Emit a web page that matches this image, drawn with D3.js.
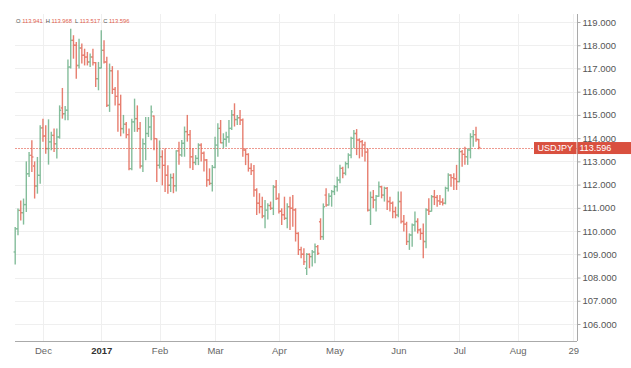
<!DOCTYPE html>
<html><head><meta charset="utf-8">
<script src="https://cdn.jsdelivr.net/npm/d3@7"></script>
<style>
html,body{margin:0;padding:0;background:#fff;}
svg{display:block;font-family:"Liberation Sans",Arial,Helvetica,sans-serif;}
</style></head>
<body><svg id="c" width="631" height="368"></svg>
<script>
// ---- data (USDJPY daily OHLC, trading days from 2016-11-17) ----
const startDate = "2016-11-17";
const skipDates = ["2016-12-26", "2017-01-02"];
const openV = [109.10,110.10,110.89,110.79,111.14,112.47,113.26,112.80,111.94,112.40,114.44,114.09,113.55,113.84,114.12,113.76,114.05,115.30,115.05,115.20,117.06,118.21,118.00,117.13,117.88,117.57,117.49,117.28,117.49,117.25,116.56,117.02,117.78,117.28,115.41,116.90,116.10,115.80,115.45,114.41,114.60,114.15,112.69,114.70,114.84,114.41,112.80,113.76,114.20,114.48,114.95,113.98,112.83,113.20,112.83,112.40,111.97,112.30,111.95,113.45,113.28,113.78,114.28,114.15,113.20,112.95,113.13,113.70,113.35,113.06,112.20,112.05,112.74,113.70,114.42,113.80,113.95,114.05,114.42,115.00,114.80,114.88,114.78,113.49,113.30,112.70,112.60,111.77,111.20,111.05,110.65,110.90,111.10,110.98,111.90,111.40,110.85,110.70,110.55,111.05,110.98,110.91,109.90,109.20,109.00,108.40,109.00,108.90,109.10,109.33,110.40,109.76,111.55,111.12,111.50,111.70,111.91,112.20,112.70,112.49,112.90,113.27,113.99,114.20,113.92,113.85,113.71,113.40,110.90,111.45,111.34,111.50,111.91,111.55,111.84,111.27,111.20,110.84,110.69,111.27,110.41,110.30,109.55,109.83,110.26,110.41,110.05,109.90,109.55,110.91,110.85,111.48,111.45,111.30,111.25,111.20,111.84,112.41,112.30,112.25,112.13,113.42,113.30,113.20,113.49,114.06,114.15,113.941];
const highV = [110.18,110.97,111.32,111.40,113.00,113.40,113.91,113.00,113.19,114.55,114.84,114.55,114.81,114.27,114.41,114.41,115.41,116.16,115.38,117.39,118.71,118.43,118.14,118.28,118.07,117.85,117.71,117.64,117.85,117.28,117.28,118.64,118.21,117.50,117.21,117.10,116.20,116.92,115.87,115.00,114.70,114.41,114.84,115.70,115.41,114.70,113.98,114.91,114.91,115.41,114.98,113.98,113.90,113.48,113.55,112.83,112.47,112.49,113.48,113.85,113.92,114.50,115.00,114.35,113.56,113.27,113.78,113.78,113.42,113.10,112.70,112.84,114.06,114.64,114.78,114.21,114.28,114.78,115.21,115.50,115.00,115.21,114.85,113.56,113.35,112.92,112.84,111.84,111.63,111.48,111.34,111.20,111.27,111.98,112.20,111.63,110.98,111.48,111.20,111.48,111.55,110.98,109.95,109.33,109.26,109.05,109.04,109.19,109.47,109.40,110.55,111.19,111.84,111.63,111.77,111.98,112.34,112.85,112.77,112.99,113.35,114.06,114.35,114.39,113.99,113.92,113.85,113.56,111.70,111.77,111.55,112.13,111.95,111.91,111.90,111.48,111.27,111.05,111.70,111.70,110.69,110.40,109.90,110.33,110.84,110.55,110.12,110.33,110.98,111.41,111.55,111.77,111.55,111.55,111.41,111.91,112.49,112.45,112.49,112.85,113.56,113.49,113.63,113.56,114.21,114.35,114.49,113.968];
const lowV = [108.56,109.82,110.46,110.28,110.82,112.33,112.54,111.40,111.61,112.04,113.84,113.33,112.86,113.48,113.40,113.12,113.98,114.84,114.77,114.77,117.00,117.42,116.56,117.00,117.21,117.13,117.13,117.06,117.13,116.20,116.06,117.00,117.21,115.34,115.13,115.90,115.41,114.27,114.08,114.20,114.00,112.62,112.62,114.27,114.27,112.69,112.54,113.05,114.05,113.91,113.48,112.11,112.69,111.97,111.68,111.61,111.68,111.63,111.70,112.85,113.20,113.20,113.85,112.70,112.63,112.84,112.84,112.99,112.56,111.91,111.98,111.70,112.70,113.20,113.78,113.56,113.63,113.80,114.35,114.50,114.57,114.57,113.20,112.84,112.56,112.41,111.48,110.69,110.76,110.55,110.12,110.50,110.91,110.69,111.34,110.76,110.26,110.48,110.12,110.05,110.19,109.55,108.97,108.83,108.54,108.11,108.40,108.47,108.61,108.97,109.62,109.62,111.05,111.10,111.05,111.55,111.70,112.06,112.27,112.40,112.70,113.13,113.56,113.27,113.13,113.20,113.00,110.84,110.26,110.98,110.84,111.48,111.41,111.27,110.91,110.84,110.55,110.55,110.60,110.33,109.98,109.40,109.19,109.33,109.98,109.90,109.62,108.83,109.26,110.69,110.84,111.12,111.05,111.12,111.10,111.15,111.70,111.91,111.77,111.77,112.10,112.77,112.85,112.85,113.13,113.63,113.85,113.517];
const closeV = [110.10,110.89,110.79,111.14,112.47,113.26,113.19,111.94,112.40,114.44,114.09,113.55,113.84,114.12,113.76,114.05,115.20,115.05,115.20,117.06,118.21,118.00,117.13,117.88,117.57,117.49,117.28,117.49,117.25,116.56,117.02,117.78,117.28,115.41,116.90,116.10,115.80,115.45,114.41,114.60,114.15,112.69,114.70,114.84,114.41,112.80,113.76,114.20,114.48,115.13,113.98,112.83,113.20,112.83,112.40,111.97,112.30,111.95,113.45,113.28,113.78,114.28,114.15,113.20,112.95,113.13,113.70,113.35,113.06,112.20,112.05,112.74,113.70,114.42,113.80,113.95,114.05,114.42,115.00,114.80,114.88,114.78,113.49,113.30,112.70,112.60,111.77,111.20,111.05,110.65,110.90,111.10,110.98,111.90,111.40,110.85,110.70,110.55,111.05,110.98,110.91,109.90,109.20,109.00,108.68,109.00,108.90,109.10,109.33,109.04,109.76,111.05,111.12,111.50,111.70,111.91,112.20,112.70,112.49,112.90,113.27,113.99,114.20,113.92,113.85,113.71,113.40,110.90,111.45,111.34,111.50,111.91,111.55,111.84,111.27,111.20,110.84,110.69,111.27,110.41,110.30,109.55,109.83,110.26,110.41,110.05,109.90,109.55,110.91,110.85,111.48,111.45,111.30,111.25,111.20,111.84,112.41,112.30,112.25,112.13,113.42,113.30,113.20,113.49,114.06,114.15,113.941,113.596];
const yTicks = [106,107,108,109,110,111,112,113,114,115,116,117,118,119];
const xTickDates = ["2016-12-01","2017-01-02","2017-02-01","2017-03-01","2017-04-01","2017-05-01","2017-06-01","2017-07-01","2017-08-01","2017-08-29"];
const xTickLabels = ["Dec","2017","Feb","Mar","Apr","May","Jun","Jul","Aug","29"];
const symbol = "USDJPY";

// ---- trading-day calendar ----
const parse = d3.utcParse("%Y-%m-%d"), fmt = d3.utcFormat("%Y-%m-%d");
const days = d3.utcDays(parse(startDate), parse("2017-09-01"))
  .filter(d => d.getUTCDay() !== 0 && d.getUTCDay() !== 6 && !skipDates.includes(fmt(d)));
const idxOf = s => { const t = parse(s); return days.findIndex(d => d >= t); };

const bars = openV.map((o, i) => ({i, o, h: highV[i], l: lowV[i], c: closeV[i]}));
const last = bars[bars.length - 1];

const L = 15, R = 577, T = 14, B = 341;
const x = d3.scaleLinear().domain([-0.072, 202.38]).range([L, R]);
const y = d3.scaleLinear().domain([105.268, 119.344]).range([B, T]);

const svg = d3.select("#c");
const green = "#62ab7f", red = "#e15a47";

// grid
svg.append("g").selectAll("line").data(yTicks).join("line")
  .attr("x1", L).attr("x2", R).attr("y1", d => Math.round(y(d)) + 0.5).attr("y2", d => Math.round(y(d)) + 0.5)
  .attr("stroke", "#efefef").attr("stroke-width", 1);
const tickIdx = xTickDates.map(idxOf);
svg.append("g").selectAll("line").data(tickIdx).join("line")
  .attr("x1", d => Math.round(x(d)) + 0.5).attr("x2", d => Math.round(x(d)) + 0.5).attr("y1", T).attr("y2", B)
  .attr("stroke", "#efefef").attr("stroke-width", 1);

// price line
const py = Math.round(y(last.c)) + 0.5;
svg.append("line").attr("x1", L).attr("x2", R).attr("y1", py).attr("y2", py)
  .attr("stroke", "#ee9a90").attr("stroke-width", 1).attr("stroke-dasharray", "2,1");

// OHLC bars
const g = svg.append("g").attr("stroke-width", 1.4).attr("opacity", 0.78);
bars.forEach(b => {
  const col = b.c >= b.o ? green : red;
  const cx = x(b.i);
  g.append("line").attr("x1", cx).attr("x2", cx).attr("y1", y(b.h)).attr("y2", y(b.l)).attr("stroke", col);
  g.append("line").attr("x1", cx - 1.6).attr("x2", cx).attr("y1", y(b.o)).attr("y2", y(b.o)).attr("stroke", col);
  g.append("line").attr("x1", cx).attr("x2", cx + 1.6).attr("y1", y(b.c)).attr("y2", y(b.c)).attr("stroke", col);
});

// axes
const yAxis = svg.append("g").attr("transform", `translate(${R + 0.5},0)`)
  .call(d3.axisRight(y).tickValues(yTicks).tickSize(3).tickPadding(2).tickFormat(d3.format(".3f")));
yAxis.select(".domain").attr("d", `M0,${T}V${B}`).attr("stroke", "#aaa");
yAxis.selectAll(".tick line").attr("stroke", "#aaa");
yAxis.selectAll("text").attr("fill", "#555").style("font-size", "9.5px");

const xAxis = svg.append("g").attr("transform", `translate(0,${B + 0.5})`)
  .call(d3.axisBottom(x).tickValues(tickIdx).tickSize(0).tickPadding(5.5).tickFormat((d, i) => xTickLabels[i]));
xAxis.select(".domain").attr("d", `M${L},0H${R}`).attr("stroke", "#aaa");
xAxis.selectAll("text").attr("fill", "#666").style("font-size", "9.5px")
  .filter((d, i) => xTickLabels[i] === "2017").attr("fill", "#333").style("font-weight", "bold");

// last price label
const ly = y(last.c);
svg.append("rect").attr("x", 534).attr("y", ly - 5.5).attr("width", 42.5).attr("height", 12).attr("fill", "#d9503f");
svg.append("rect").attr("x", 577.5).attr("y", ly - 5.5).attr("width", 54).attr("height", 12).attr("fill", "#d9503f");
svg.append("text").attr("x", 555.2).attr("y", ly + 0.5).attr("dy", "0.35em").attr("text-anchor", "middle")
  .attr("fill", "#fff").style("font-size", "9px").text(symbol);
svg.append("text").attr("x", 579.5).attr("y", ly + 0.5).attr("dy", "0.35em")
  .attr("fill", "#fff").style("font-size", "9px").text(d3.format(".3f")(last.c));

// OHLC legend
const leg = svg.append("text").attr("x", 16).attr("y", 23).style("font-size", "5.8px");
[["O", last.o], ["H", last.h], ["L", last.l], ["C", last.c]].forEach(([k, v], i) => {
  leg.append("tspan").attr("fill", "#555").attr("dx", i ? 3 : 0).text(k + " ");
  leg.append("tspan").attr("fill", "#e0604d").text(d3.format(".3f")(v));
});
</script></body></html>
